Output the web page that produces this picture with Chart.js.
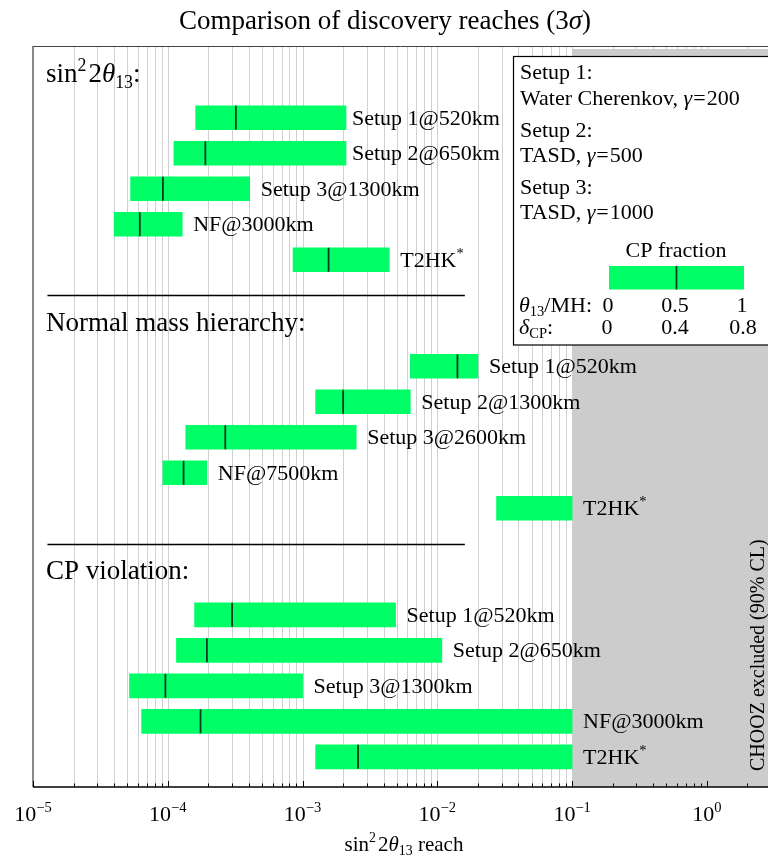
<!DOCTYPE html>
<html lang="en">
<head>
<meta charset="UTF-8">
<title>Comparison of discovery reaches</title>
<script src="https://cdn.jsdelivr.net/npm/chart.js"></script>
<style>
  body { margin: 0; background: #ffffff; overflow: hidden; }
</style>
</head>
<body>
<canvas id="reach" width="768" height="859"></canvas>
<script>
// row index of every bar (top = 0); headings sit on rows 0, 7, 14, separators on 6, 13
const rows = [1, 2, 3, 4, 5, 8, 9, 10, 11, 12, 15, 16, 17, 18, 19];
const barLabels = [
  'Setup 1@520km', 'Setup 2@650km', 'Setup 3@1300km', 'NF@3000km', 'T2HK',
  'Setup 1@520km', 'Setup 2@1300km', 'Setup 3@2600km', 'NF@7500km', 'T2HK',
  'Setup 1@520km', 'Setup 2@650km', 'Setup 3@1300km', 'NF@3000km', 'T2HK'
];
// reach in sin^2 2theta13 at CP fraction 0 / 1, and the 0.5 marker
const reachLow  = [1.61e-4, 1.11e-4, 5.3e-5, 4.0e-5, 8.5e-4,
                   6.3e-3, 1.25e-3, 1.36e-4, 9.2e-5, 0.0275,
                   1.58e-4, 1.16e-4, 5.2e-5, 6.4e-5, 1.25e-3];
const reachHigh = [2.1e-3, 2.1e-3, 4.05e-4, 1.28e-4, 4.4e-3,
                   0.020, 6.3e-3, 2.5e-3, 1.95e-4, 0.1,
                   4.9e-3, 0.0108, 1.0e-3, 0.1, 0.1];
const reachMid  = [3.2e-4, 1.9e-4, 9.2e-5, 6.2e-5, 1.56e-3,
                   0.0141, 2.0e-3, 2.67e-4, 1.31e-4, null,
                   3.0e-4, 1.95e-4, 9.6e-5, 1.75e-4, 2.58e-3];
const headingRows = [0, 7, 14];
const separatorRows = [6, 13];
const decades = [-5, -4, -3, -2, -1, 0];
const choozLimit = 0.1;

const GREEN = '#00ff66';
const SERIF = '"Liberation Serif", "DejaVu Serif", serif';

// draw a run of text pieces: n = normal, i = italic, sup / sub = small raised / lowered
function drawRich(ctx, segs, x, y, align, size) {
  const fontOf = s => {
    const sz = (s.k === 'sup' || s.k === 'sub') ? size * 0.66 : size;
    return (s.k === 'i' ? 'italic ' : '') + sz + 'px ' + SERIF;
  };
  let total = 0;
  const widths = segs.map(s => { ctx.font = fontOf(s); const w = ctx.measureText(s.t).width + (s.pad || 0); total += w; return w; });
  let cx = align === 'center' ? x - total / 2 : align === 'right' ? x - total : x;
  ctx.textAlign = 'left';
  ctx.textBaseline = 'alphabetic';
  segs.forEach((s, i) => {
    ctx.font = fontOf(s);
    let dy = 0;
    if (s.k === 'sup') dy = -size * 0.42;
    if (s.k === 'sub') dy = size * 0.2;
    ctx.fillText(s.t, cx, y + dy);
    cx += widths[i];
  });
}

const sinTheta = [{t: 'sin'}, {t: '2', k: 'sup', pad: 2}, {t: '2'}, {t: 'θ', k: 'i'}, {t: '13', k: 'sub'}];
const gammaEq = v => [{t: 'γ', k: 'i', pad: 1}, {t: '=', pad: 1}, {t: v}];

const decorPlugin = {
  id: 'decor',
  beforeDatasetsDraw(chart) {
    const {ctx, chartArea: a, scales: {x}} = chart;
    ctx.save();
    // light vertical grid, 1..9 per decade
    ctx.strokeStyle = '#d0d0d0';
    ctx.lineWidth = 1;
    decades.forEach(d => {
      for (let m = 1; m <= 9; m++) {
        const v = m * Math.pow(10, d);
        if (v > x.max) break;
        const px = Math.round(x.getPixelForValue(v)) + 0.5;
        ctx.beginPath(); ctx.moveTo(px, a.top); ctx.lineTo(px, a.bottom); ctx.stroke();
      }
    });
    // CHOOZ excluded region
    const cx = x.getPixelForValue(choozLimit);
    ctx.fillStyle = '#cccccc';
    ctx.fillRect(cx, a.top + 3, a.right - cx, a.bottom - a.top - 3);
    ctx.restore();
  },
  afterDatasetsDraw(chart) {
    const {ctx, chartArea: a, scales: {x, y}} = chart;
    ctx.save();
    // CP fraction 0.5 markers
    ctx.strokeStyle = '#0b3a1c';
    ctx.lineWidth = 1.8;
    reachMid.forEach((m, i) => {
      if (m == null) return;
      const px = x.getPixelForValue(m), py = y.getPixelForValue(rows[i]);
      ctx.beginPath(); ctx.moveTo(px, py - 12); ctx.lineTo(px, py + 12); ctx.stroke();
    });
    // bar labels
    ctx.fillStyle = '#000';
    barLabels.forEach((lab, i) => {
      const gap = (i === 0 || i === 1) ? 6 : 11;
      const px = x.getPixelForValue(reachHigh[i]) + gap;
      const py = y.getPixelForValue(rows[i]) + 7;
      const segs = lab === 'T2HK' ? [{t: 'T2HK'}, {t: '*', k: 'sup'}] : [{t: lab}];
      drawRich(ctx, segs, px, py, 'left', 22);
    });
    // section headings
    const headings = [sinTheta.concat([{t: ':'}]), [{t: 'Normal mass hierarchy:'}], [{t: 'CP violation:'}]];
    headingRows.forEach((r, i) => drawRich(ctx, headings[i], a.left + 13, y.getPixelForValue(r), 'left', 27));
    // separators
    ctx.strokeStyle = '#000';
    ctx.lineWidth = 1.3;
    separatorRows.forEach(r => {
      const py = Math.round(y.getPixelForValue(r)) + 0.5;
      ctx.beginPath(); ctx.moveTo(x.getPixelForValue(1.28e-5), py); ctx.lineTo(x.getPixelForValue(0.016), py); ctx.stroke();
    });
    // frame and axis
    ctx.strokeStyle = '#888';
    ctx.lineWidth = 2;
    ctx.beginPath(); ctx.moveTo(a.left, a.top); ctx.lineTo(a.left, a.bottom); ctx.stroke();
    ctx.strokeStyle = '#444';
    ctx.lineWidth = 1;
    ctx.beginPath(); ctx.moveTo(a.left, a.top + 0.5); ctx.lineTo(a.right, a.top + 0.5); ctx.stroke();
    ctx.strokeStyle = '#000';
    ctx.lineWidth = 1.5;
    ctx.beginPath(); ctx.moveTo(a.left, a.bottom); ctx.lineTo(a.right, a.bottom); ctx.stroke();
    ctx.lineWidth = 1;
    decades.forEach(d => {
      for (let m = 1; m <= 9; m++) {
        const v = m * Math.pow(10, d);
        if (v > x.max) break;
        const px = Math.round(x.getPixelForValue(v)) + 0.5;
        ctx.beginPath(); ctx.moveTo(px, a.bottom); ctx.lineTo(px, a.bottom - (m === 1 ? 6 : 3.5)); ctx.stroke();
      }
      const px = x.getPixelForValue(Math.pow(10, d));
      drawRich(ctx, [{t: '10'}, {t: d < 0 ? '\u2212' + (-d) : '0', k: 'sup'}], px, a.bottom + 34, 'center', 22);
    });
    drawRich(ctx, sinTheta.concat([{t: ' reach'}]), 404, 851, 'center', 21);

    // CHOOZ label
    ctx.save();
    ctx.translate(764, a.bottom - 16);
    ctx.rotate(-Math.PI / 2);
    drawRich(ctx, [{t: 'CHOOZ excluded (90% CL)'}], 0, 0, 'left', 20);
    ctx.restore();

    // legend box
    ctx.fillStyle = '#fff';
    ctx.fillRect(513, 56.5, 260, 288.5);
    ctx.strokeStyle = '#000';
    ctx.lineWidth = 1.2;
    ctx.strokeRect(513.5, 56.5, 260, 288.5);
    ctx.fillStyle = '#000';
    drawRich(ctx, [{t: 'Setup 1:'}], 520, 79, 'left', 22);
    drawRich(ctx, [{t: 'Water Cherenkov, '}].concat(gammaEq('200')), 520, 105, 'left', 22);
    drawRich(ctx, [{t: 'Setup 2:'}], 520, 136.5, 'left', 22);
    drawRich(ctx, [{t: 'TASD, '}].concat(gammaEq('500')), 520, 162, 'left', 22);
    drawRich(ctx, [{t: 'Setup 3:'}], 520, 193.5, 'left', 22);
    drawRich(ctx, [{t: 'TASD, '}].concat(gammaEq('1000')), 520, 218.5, 'left', 22);
    drawRich(ctx, [{t: 'CP fraction'}], 676, 257, 'center', 22);
    ctx.fillStyle = GREEN;
    ctx.fillRect(609, 266, 135, 23.5);
    ctx.strokeStyle = '#0b3a1c';
    ctx.lineWidth = 1.8;
    ctx.beginPath(); ctx.moveTo(676.5, 266); ctx.lineTo(676.5, 289.5); ctx.stroke();
    ctx.fillStyle = '#000';
    drawRich(ctx, [{t: 'θ', k: 'i'}, {t: '13', k: 'sub'}, {t: '/MH:'}], 519, 311.5, 'left', 22);
    drawRich(ctx, [{t: '0'}], 608, 311.5, 'center', 22);
    drawRich(ctx, [{t: '0.5'}], 675, 311.5, 'center', 22);
    drawRich(ctx, [{t: '1'}], 742, 311.5, 'center', 22);
    drawRich(ctx, [{t: 'δ', k: 'i'}, {t: 'CP', k: 'sub'}, {t: ':'}], 519, 334, 'left', 22);
    drawRich(ctx, [{t: '0'}], 607, 334, 'center', 22);
    drawRich(ctx, [{t: '0.4'}], 675, 334, 'center', 22);
    drawRich(ctx, [{t: '0.8'}], 743, 334, 'center', 22);

    // title
    drawRich(ctx, [{t: 'Comparison of discovery reaches (3'}, {t: 'σ', k: 'i'}, {t: ')'}], 385, 29, 'center', 27);
    ctx.restore();
  }
};

new Chart(document.getElementById('reach'), {
  type: 'bar',
  data: {
    datasets: [{
      data: rows.map((r, i) => ({y: r, x: [reachLow[i], reachHigh[i]]})),
      backgroundColor: GREEN,
      borderWidth: 0,
      barThickness: 24
    }]
  },
  options: {
    indexAxis: 'y',
    responsive: false,
    animation: false,
    layout: { padding: { left: 33, top: 46, right: 0, bottom: 72 } },
    scales: {
      x: { type: 'logarithmic', min: 1e-5, max: 2.84, display: false },
      y: { type: 'linear', min: -1.02, max: 19.85, reverse: true, offset: false, display: false }
    },
    plugins: { legend: { display: false }, tooltip: { enabled: false } }
  },
  plugins: [decorPlugin]
});
</script>
</body>
</html>
